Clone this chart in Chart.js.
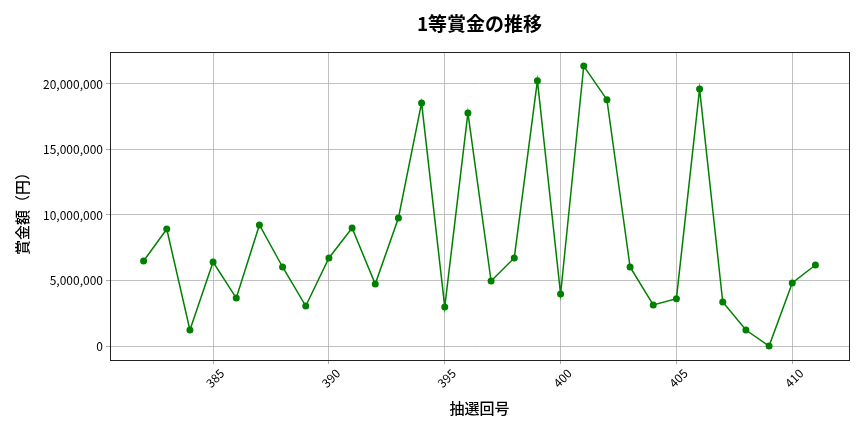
<!DOCTYPE html>
<html><head><meta charset="utf-8">
<script src="https://cdn.jsdelivr.net/npm/chart.js@4.4.1/dist/chart.umd.min.js"></script>
<style>html,body{margin:0;padding:0;background:#fff;}#wrap{width:864px;height:432px;}</style>
</head><body><div id="wrap"><canvas id="c" width="864" height="432"></canvas></div>
<script>
const drawNumbers = [382,383,384,385,386,387,388,389,390,391,392,393,394,395,396,397,398,399,400,401,402,403,404,405,406,407,408,409,410,411];
const prizeValues = [6490000,8930000,1220000,6410000,3660000,9240000,6030000,3050000,6720000,9000000,4730000,9770000,18550000,2980000,17790000,4960000,6720000,20250000,3970000,21370000,18800000,6030000,3130000,3610000,19620000,3360000,1220000,0,4810000,6180000];
const xTicks = [385,390,395,400,405,410];
const yTicks = [0,5000000,10000000,15000000,20000000];
const titleText = '1等賞金の推移';
const xLabel = '抽選回号';
const yLabel = '賞金額（円）';
const FONT = "'Noto Sans CJK JP','Noto Sans',sans-serif";

const pts = drawNumbers.map((x,i)=>({x:x,y:prizeValues[i]}));
const xr = drawNumbers[drawNumbers.length-1]-drawNumbers[0];
const ymax = Math.max(...prizeValues), ymin = Math.min(...prizeValues);
const yr = ymax-ymin;

const framePlugin = {
  id:'frame',
  afterDraw(chart){
    const {ctx, chartArea:a} = chart;
    ctx.save();
    ctx.strokeStyle='#222'; ctx.lineWidth=1;
    ctx.strokeRect(a.left+0.5,a.top+0.5,a.right-a.left,a.bottom-a.top);
    ctx.fillStyle='#000';
    ctx.textAlign='center'; ctx.textBaseline='middle';
    ctx.font="bold 19px "+FONT;
    ctx.fillText(titleText,(a.left+a.right)/2,24);
    ctx.font="500 15px "+FONT;
    ctx.fillText(xLabel,(a.left+a.right)/2,408);
    ctx.translate(22,210);
    ctx.rotate(-Math.PI/2);
    ctx.fillText(yLabel,0,0);
    ctx.restore();
  }
};

new Chart(document.getElementById('c'),{
  type:'line',
  data:{datasets:[{data:pts,borderColor:'#008000',backgroundColor:'#008000',borderWidth:1.5,pointRadius:3.5,pointHoverRadius:3.5,pointBorderWidth:0,tension:0}]},
  options:{
    responsive:false,animation:false,
    layout:{padding:{left:0,right:15,top:52,bottom:0}},
    plugins:{legend:{display:false},tooltip:{enabled:false},title:{display:false}},
    scales:{
      x:{type:'linear',min:drawNumbers[0]-0.05*xr,max:drawNumbers[drawNumbers.length-1]+0.05*xr,
        afterBuildTicks(s){s.ticks=xTicks.map(v=>({value:v}));},
        afterFit(s){s.height=72;},
        grid:{color:'#b0b0b0',lineWidth:0.8,tickLength:4,tickColor:'#999'},
        border:{display:false},
        ticks:{minRotation:45,maxRotation:45,autoSkip:false,labelOffset:9,padding:2,color:'#000',font:{family:FONT,size:12},callback:v=>String(v)}
      },
      y:{type:'linear',min:ymin-0.05*yr,max:ymax+0.05*yr,
        afterBuildTicks(s){s.ticks=yTicks.map(v=>({value:v}));},
        afterFit(s){s.width=110;},
        grid:{color:'#b0b0b0',lineWidth:0.8,tickLength:4,tickColor:'#999'},
        border:{display:false},
        ticks:{padding:3,color:'#000',font:{family:FONT,size:12},callback:v=>v.toLocaleString('en-US')}
      }
    }
  },
  plugins:[framePlugin]
});
</script></body></html>
